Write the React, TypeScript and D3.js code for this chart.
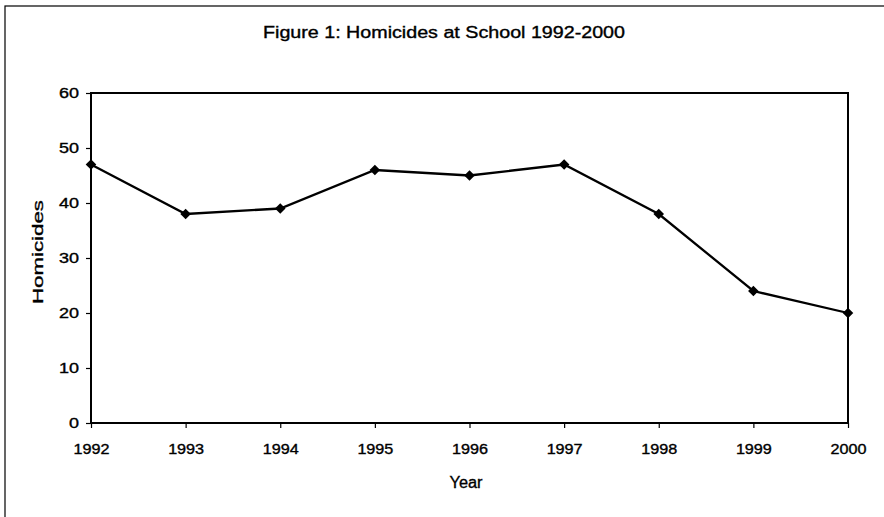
import React from 'react';
import * as d3 from 'd3';

const owidth = 884;
const oheight = 517;
const margin = { top: 93, right: 36, bottom: 94, left: 91 };
const iwidth = owidth - margin.left - margin.right;
const iheight = oheight - margin.top - margin.bottom;

const years = [1992, 1993, 1994, 1995, 1996, 1997, 1998, 1999, 2000];
const homicides = [47, 38, 39, 46, 45, 47, 38, 24, 20];
const yTicks = [0, 10, 20, 30, 40, 50, 60];

const font = '"Liberation Sans", Arial, sans-serif';

function App() {
  const svgRef = React.useRef<SVGSVGElement>(null);

  React.useEffect(() => {
    const el = d3.select(svgRef.current);
    const xScale = d3.scaleLinear().domain([1992, 2000]).range([0, iwidth]);
    const yScale = d3.scaleLinear().domain([0, 60]).range([iheight, 0]);

    const g = el.select('g.plot');

    // the scan is a bit stretched sideways, so labels get a fixed length
    g.select('.xaxis')
      .call(d3.axisBottom(xScale).tickValues(years).tickFormat(d3.format('d')).tickSize(5).tickPadding(16) as any)
      .call(s => s.select('.domain').remove())
      .call(s => s.selectAll('line').attr('stroke-width', 1.2))
      .call(s => s.selectAll('text')
        .attr('font-size', 14).attr('font-family', font).attr('fill', '#000')
        .attr('stroke', '#000').attr('stroke-width', 0.35)
        .attr('textLength', 36).attr('lengthAdjust', 'spacingAndGlyphs'));

    g.select('.yaxis')
      .call(d3.axisLeft(yScale).tickValues(yTicks).tickSize(5).tickPadding(7) as any)
      .call(s => s.select('.domain').remove())
      .call(s => s.selectAll('line').attr('stroke-width', 1.2))
      .call(s => s.selectAll('text')
        .attr('font-size', 14).attr('font-family', font).attr('fill', '#000')
        .attr('stroke', '#000').attr('stroke-width', 0.35)
        .attr('textLength', (d: any) => (String(d).length === 1 ? 10 : 20))
        .attr('lengthAdjust', 'spacingAndGlyphs'));

    const points = years.map((y, i) => ({ year: y, value: homicides[i] }));

    const line = d3.line<{ year: number; value: number }>()
      .x(d => xScale(d.year))
      .y(d => yScale(d.value));

    g.select('.series')
      .selectAll('path.line')
      .data([points])
      .join('path')
      .attr('class', 'line')
      .attr('d', line)
      .attr('fill', 'none')
      .attr('stroke', '#000')
      .attr('stroke-width', 2.3);

    const diamond = d3.symbol().type(d3.symbolSquare).size(56);
    g.select('.series')
      .selectAll('path.marker')
      .data(points)
      .join('path')
      .attr('class', 'marker')
      .attr('d', diamond)
      .attr('transform', d => `translate(${xScale(d.year)},${yScale(d.value)}) rotate(45)`)
      .attr('fill', '#000');
  }, []);

  return (
    <svg
      ref={svgRef}
      width={owidth}
      height={oheight}
      viewBox={`0 0 ${owidth} ${oheight}`}
      style={{ position: 'absolute', left: 0, top: 0, background: '#fff' }}
    >
      <rect x={5} y={6} width={owidth} height={oheight} fill="#fff" stroke="#000" strokeWidth={1.2} />
      <text x={444} y={38} textAnchor="middle" fontFamily={font} fontSize={16} fill="#000"
        stroke="#000" strokeWidth={0.35} textLength={362} lengthAdjust="spacingAndGlyphs">
        Figure 1: Homicides at School 1992-2000
      </text>
      <g className="plot" transform={`translate(${margin.left},${margin.top})`}>
        <rect x={0} y={0} width={iwidth} height={iheight} fill="none" stroke="#000" strokeWidth={2} />
        <g className="xaxis" transform={`translate(0,${iheight})`} />
        <g className="yaxis" />
        <g className="series" />
      </g>
      <text x={466} y={488} textAnchor="middle" fontFamily={font} fontSize={16} fill="#000"
        stroke="#000" strokeWidth={0.35} textLength={33} lengthAdjust="spacingAndGlyphs">Year</text>
      <text transform="translate(43,252) rotate(-90)" textAnchor="middle" fontFamily={font} fontSize={15} fill="#000"
        stroke="#000" strokeWidth={0.35} textLength={104} lengthAdjust="spacingAndGlyphs">
        Homicides
      </text>
    </svg>
  );
}

export default App;
